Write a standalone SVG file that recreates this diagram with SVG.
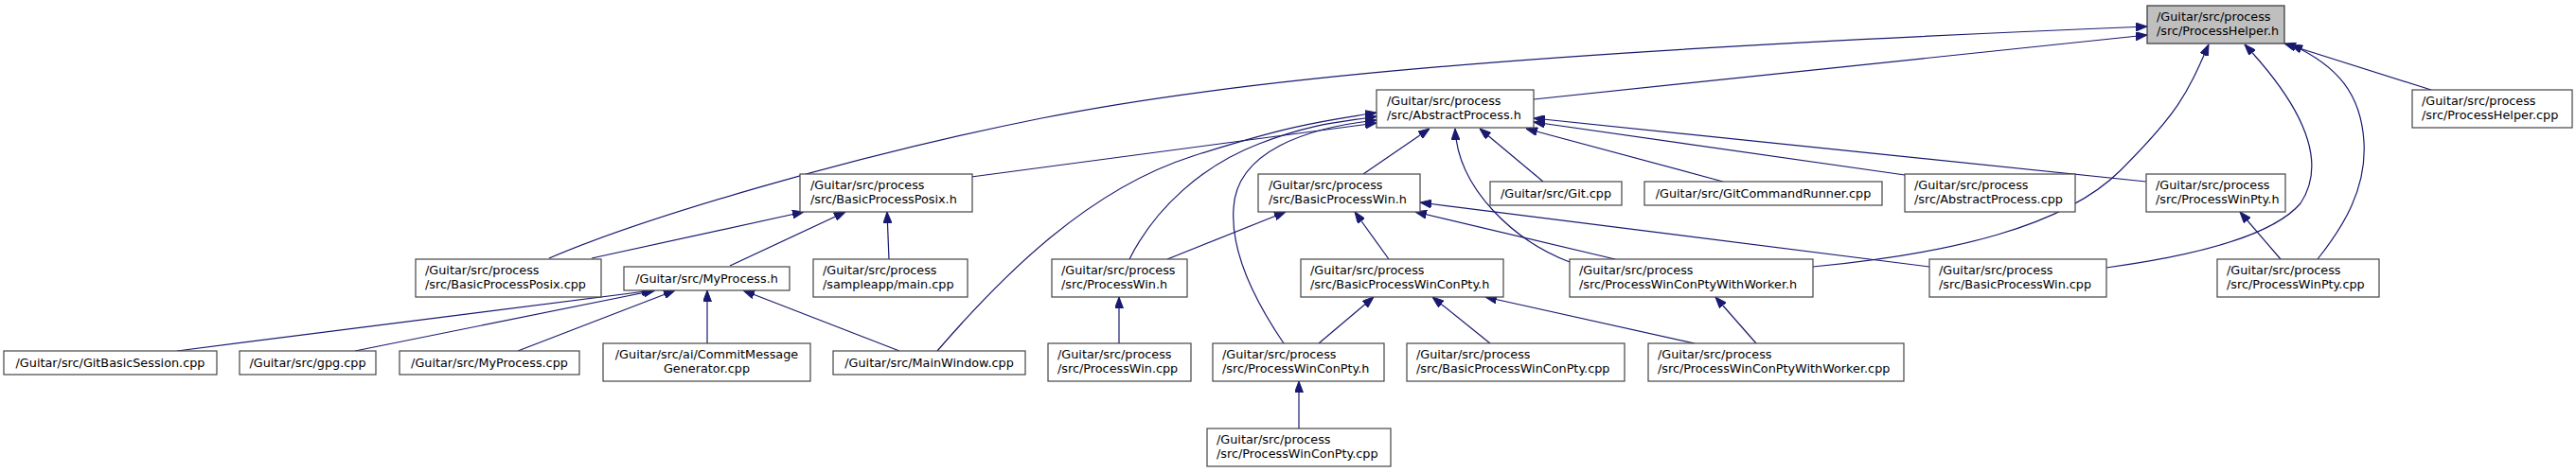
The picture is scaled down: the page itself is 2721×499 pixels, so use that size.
<svg xmlns="http://www.w3.org/2000/svg" width="2721" height="499" viewBox="0 0 2721 499">
<style>
.n rect{fill:#ffffff;stroke:#444444;stroke-width:1.2}
.root rect{fill:#bfbfbf;stroke:#333333;stroke-width:1.2}
text{font-family:"DejaVu Sans","Liberation Sans",sans-serif;font-size:12.8px;fill:#000}
.c{text-anchor:middle}
#edges path{fill:none;stroke:#191970;stroke-width:1.2;marker-end:url(#arr)}
</style>
<defs>
<marker id="arr" viewBox="0 0 12 9" refX="12" refY="4.5" markerWidth="12" markerHeight="9" markerUnits="userSpaceOnUse" orient="auto">
<path d="M0,0 L12,4.5 L0,9 z" fill="#191970" stroke="#191970" stroke-width="1"/>
</marker>
</defs>
<rect width="2721" height="499" fill="#ffffff"/>
<g id="edges">
<path d="M1620,105 L2268,37"/>
<path d="M580,273 C680,230 900,165 1100,125 S1600,55 2268,28"/>
<path d="M1915,282 C2060,268 2180,240 2240,180 S2310,100 2333,47"/>
<path d="M2225,283 C2320,270 2400,250 2430,215 C2460,170 2430,110 2371,47"/>
<path d="M2448,274 C2475,240 2500,200 2497,150 C2494,100 2470,70 2420,47"/>
<path d="M2568,95 L2413,46"/>
<path d="M2409,274 L2366,224"/>
<path d="M1026,187 L1454,130"/>
<path d="M990,371 C1060,290 1150,200 1260,165 S1400,128 1454,119"/>
<path d="M1193,274 C1220,220 1270,175 1330,152 S1420,129 1454,123"/>
<path d="M1356,363 C1320,310 1300,260 1303,220 C1306,160 1380,135 1454,127"/>
<path d="M1440,184 L1510,136"/>
<path d="M1658,277 C1600,255 1540,200 1537,136"/>
<path d="M1630,192 L1563,136"/>
<path d="M1820,192 L1612,136"/>
<path d="M2012,185 L1620,129"/>
<path d="M2267,192 L1620,125"/>
<path d="M625,273 L849,224"/>
<path d="M771,281 L893,224"/>
<path d="M939,274 L937,224"/>
<path d="M187,371 L690,307"/>
<path d="M375,371 L692,307"/>
<path d="M547,371 L713,307"/>
<path d="M747,363 L747,307"/>
<path d="M950,371 L785,307"/>
<path d="M1233,274 L1358,224"/>
<path d="M1467,274 L1431,224"/>
<path d="M1706,274 L1495,224"/>
<path d="M2038,282 L1500,214"/>
<path d="M1393,363 L1451,314"/>
<path d="M1574,363 L1513,314"/>
<path d="M1790,363 L1569,314"/>
<path d="M1855,363 L1812,314"/>
<path d="M1372,453 L1372,403"/>
<path d="M1182,363 L1182,314"/>
</g>
<g id="n_ProcessHelper_h" class="root"><rect x="2268" y="6" width="145" height="40"/><text x="2278" y="22">/Guitar/src/process</text><text x="2278" y="37">/src/ProcessHelper.h</text></g>
<g id="n_AbstractProcess_h" class="n"><rect x="1454" y="95" width="166" height="40"/><text x="1465" y="111">/Guitar/src/process</text><text x="1465" y="126">/src/AbstractProcess.h</text></g>
<g id="n_ProcessHelper_cpp" class="n"><rect x="2548" y="95" width="169" height="40"/><text x="2558" y="111">/Guitar/src/process</text><text x="2558" y="126">/src/ProcessHelper.cpp</text></g>
<g id="n_BasicProcessPosix_h" class="n"><rect x="845" y="184" width="182" height="40"/><text x="856" y="200">/Guitar/src/process</text><text x="856" y="215">/src/BasicProcessPosix.h</text></g>
<g id="n_BasicProcessWin_h" class="n"><rect x="1329" y="184" width="171" height="40"/><text x="1340" y="200">/Guitar/src/process</text><text x="1340" y="215">/src/BasicProcessWin.h</text></g>
<g id="n_Git_cpp" class="n"><rect x="1574" y="192" width="139" height="25"/><text class="c" x="1643.5" y="209">/Guitar/src/Git.cpp</text></g>
<g id="n_GitCommandRunner_cpp" class="n"><rect x="1737" y="192" width="251" height="25"/><text class="c" x="1862.5" y="209">/Guitar/src/GitCommandRunner.cpp</text></g>
<g id="n_AbstractProcess_cpp" class="n"><rect x="2012" y="184" width="180" height="40"/><text x="2022" y="200">/Guitar/src/process</text><text x="2022" y="215">/src/AbstractProcess.cpp</text></g>
<g id="n_ProcessWinPty_h" class="n"><rect x="2267" y="184" width="147" height="40"/><text x="2277" y="200">/Guitar/src/process</text><text x="2277" y="215">/src/ProcessWinPty.h</text></g>
<g id="n_BasicProcessPosix_cpp" class="n"><rect x="439" y="274" width="196" height="40"/><text x="449" y="290">/Guitar/src/process</text><text x="449" y="305">/src/BasicProcessPosix.cpp</text></g>
<g id="n_MyProcess_h" class="n"><rect x="659" y="282" width="175" height="25"/><text class="c" x="746.5" y="299">/Guitar/src/MyProcess.h</text></g>
<g id="n_sampleapp_main_cpp" class="n"><rect x="859" y="274" width="163" height="40"/><text x="869" y="290">/Guitar/src/process</text><text x="869" y="305">/sampleapp/main.cpp</text></g>
<g id="n_ProcessWin_h" class="n"><rect x="1111" y="274" width="143" height="40"/><text x="1121" y="290">/Guitar/src/process</text><text x="1121" y="305">/src/ProcessWin.h</text></g>
<g id="n_BasicProcessWinConPty_h" class="n"><rect x="1374" y="274" width="214" height="40"/><text x="1384" y="290">/Guitar/src/process</text><text x="1384" y="305">/src/BasicProcessWinConPty.h</text></g>
<g id="n_ProcessWinConPtyWithWorker_h" class="n"><rect x="1658" y="274" width="257" height="40"/><text x="1668" y="290">/Guitar/src/process</text><text x="1668" y="305">/src/ProcessWinConPtyWithWorker.h</text></g>
<g id="n_BasicProcessWin_cpp" class="n"><rect x="2038" y="274" width="187" height="40"/><text x="2048" y="290">/Guitar/src/process</text><text x="2048" y="305">/src/BasicProcessWin.cpp</text></g>
<g id="n_ProcessWinPty_cpp" class="n"><rect x="2342" y="274" width="171" height="40"/><text x="2352" y="290">/Guitar/src/process</text><text x="2352" y="305">/src/ProcessWinPty.cpp</text></g>
<g id="n_GitBasicSession_cpp" class="n"><rect x="4" y="371" width="225" height="25"/><text class="c" x="116.5" y="388">/Guitar/src/GitBasicSession.cpp</text></g>
<g id="n_gpg_cpp" class="n"><rect x="253" y="371" width="144" height="25"/><text class="c" x="325" y="388">/Guitar/src/gpg.cpp</text></g>
<g id="n_MyProcess_cpp" class="n"><rect x="422" y="371" width="190" height="25"/><text class="c" x="517" y="388">/Guitar/src/MyProcess.cpp</text></g>
<g id="n_CommitMessageGenerator_cpp" class="n"><rect x="637" y="363" width="219" height="40"/><text class="c" x="746.5" y="379">/Guitar/src/ai/CommitMessage</text><text class="c" x="746.5" y="394">Generator.cpp</text></g>
<g id="n_MainWindow_cpp" class="n"><rect x="880" y="371" width="203" height="25"/><text class="c" x="981.5" y="388">/Guitar/src/MainWindow.cpp</text></g>
<g id="n_ProcessWin_cpp" class="n"><rect x="1107" y="363" width="151" height="40"/><text x="1117" y="379">/Guitar/src/process</text><text x="1117" y="394">/src/ProcessWin.cpp</text></g>
<g id="n_ProcessWinConPty_h" class="n"><rect x="1281" y="363" width="181" height="40"/><text x="1291" y="379">/Guitar/src/process</text><text x="1291" y="394">/src/ProcessWinConPty.h</text></g>
<g id="n_BasicProcessWinConPty_cpp" class="n"><rect x="1486" y="363" width="230" height="40"/><text x="1496" y="379">/Guitar/src/process</text><text x="1496" y="394">/src/BasicProcessWinConPty.cpp</text></g>
<g id="n_ProcessWinConPtyWithWorker_cpp" class="n"><rect x="1741" y="363" width="270" height="40"/><text x="1751" y="379">/Guitar/src/process</text><text x="1751" y="394">/src/ProcessWinConPtyWithWorker.cpp</text></g>
<g id="n_ProcessWinConPty_cpp" class="n"><rect x="1275" y="453" width="194" height="40"/><text x="1285" y="469">/Guitar/src/process</text><text x="1285" y="484">/src/ProcessWinConPty.cpp</text></g>
</svg>
